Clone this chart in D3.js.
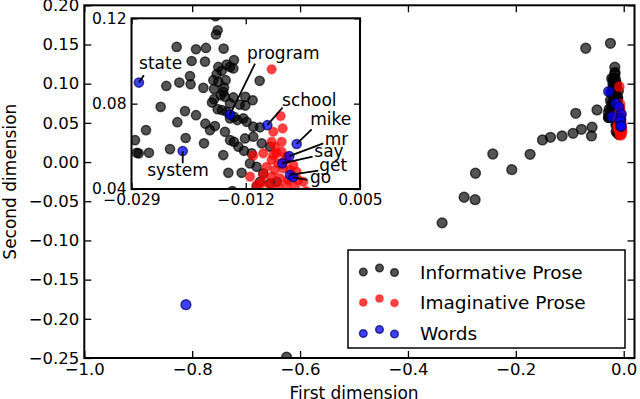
<!DOCTYPE html>
<html>
<head>
<meta charset="utf-8">
<script src="https://cdn.jsdelivr.net/npm/d3@7"></script>
<style>
  body { margin: 0; background: #fff; }
  svg { font-family: "DejaVu Sans", sans-serif; }
  .tick line { stroke: #000; stroke-width: 1.3; }
  .tick text { fill: #000; }
</style>
</head>
<body>
<div id="chart"></div>
<script>
// points: [first dimension, second dimension]
const informative = [
  [-0.625,-0.249],[-0.3367,-0.0776],[-0.2959,-0.0449],[-0.2755,-0.048],[-0.2748,-0.0143],
  [-0.2427,0.0103],[-0.2075,-0.0097],[-0.1736,0.0099],[-0.1506,0.0282],[-0.1358,0.0316],
  [-0.1143,0.0333],[-0.0939,0.0367],[-0.0889,0.0622],[-0.0704,0.1452],[-0.0246,0.1515],
  [-0.0784,0.0418],[-0.0587,0.0444],[-0.0598,0.0333],[-0.0495,0.0665],[-0.0165,0.121],
  [-0.012,0.037],[-0.009,0.035],[-0.014,0.039],
  // dense cluster (the inset region)
  [-0.01618,0.1144],[-0.01643,0.1124],[-0.02228,0.1066],[-0.0194,0.1055],[-0.01792,0.1061],
  [-0.01529,0.1058],[-0.02005,0.1000],[-0.01806,0.0997],[-0.01375,0.1004],[-0.01484,0.0983],
  [-0.01608,0.0972],[-0.01434,0.0972],[-0.01558,0.0954],[-0.01385,0.0965],[-0.0203,0.0929],
  [-0.02188,0.0899],[-0.02382,0.0883],[-0.0202,0.0891],[-0.01633,0.0938],[-0.01682,0.091],
  [-0.01608,0.0902],[-0.01499,0.091],[-0.00993,0.0907],[-0.01524,0.0876],[-0.01672,0.0869],
  [-0.01573,0.084],[-0.01509,0.0832],[-0.01534,0.0855],[-0.01831,0.0874],[-0.01672,0.0821],
  [-0.01385,0.0829],[-0.01207,0.0832],[-0.01098,0.0816],[-0.01702,0.0805],[-0.01434,0.0801],
  [-0.0129,0.0795],[-0.01207,0.0791],[-0.02466,0.0785],[-0.02104,0.0765],[-0.0194,0.0746],
  [-0.01618,0.0774],[-0.01554,0.077],[-0.01484,0.0762],[-0.02218,0.0713],[-0.01801,0.0706],
  [-0.01658,0.0695],[-0.01434,0.0731],[-0.01375,0.0738],[-0.01325,0.0723],[-0.01236,0.0731],
  [-0.01187,0.0715],[-0.01088,0.0692],[-0.00988,0.0689],[-0.02684,0.0676],[-0.02094,0.0639],
  [-0.02327,0.0587],[-0.01821,0.0614],[-0.01732,0.0676],[-0.01509,0.0668],[-0.01434,0.0629],
  [-0.01375,0.0621],[-0.0131,0.0598],[-0.01211,0.0637],[-0.01088,0.0645],[-0.00963,0.0614],
  [-0.00839,0.0598],[-0.02823,0.057],[-0.02793,0.0567],[-0.0264,0.057],[-0.01534,0.0559],
  [-0.01226,0.0579],[-0.01112,0.0567],[-0.01459,0.0476],[-0.01261,0.0476],[-0.01137,0.052],
  [-0.01038,0.0504],[-0.00939,0.0473],[-0.00988,0.0434],[-0.00839,0.0427],[-0.0074,0.0434],
  [-0.01038,0.0411],[-0.02848,0.0629]
];

const imaginative = [
  [-0.00815,0.0961],[-0.00681,0.0742],[-0.00651,0.0684],[-0.0079,0.0668],[-0.00666,0.0621],
  [-0.00815,0.0621],[-0.00765,0.0598],[-0.00939,0.0567],[-0.01088,0.0556],[-0.01137,0.0458],
  [-0.01038,0.0419],[-0.0074,0.0567],[-0.00666,0.0575],[-0.00591,0.0551],[-0.00815,0.0536],
  [-0.00716,0.052],[-0.00889,0.0504],[-0.00765,0.0489],[-0.00641,0.0497],[-0.00542,0.0489],
  [-0.00443,0.0481],[-0.00939,0.0465],[-0.00815,0.0458],[-0.00691,0.045],[-0.00567,0.0442],
  [-0.00418,0.0442],[-0.00344,0.0434],[-0.00963,0.0427],[-0.00839,0.0419],[-0.00716,0.0411],
  [-0.00592,0.0419],[-0.00468,0.0411],[-0.00616,0.0536],[-0.00493,0.0512],[-0.0079,0.0559],
  [-0.006,0.038],[-0.004,0.036],[-0.007,0.035],[-0.003,0.039],[-0.005,0.034]
];

const words = [
  [-0.8116,-0.182],
  [-0.0279,0.0899],[-0.01434,0.0749],[-0.00879,0.0699],[-0.00442,0.0611],[-0.02138,0.0578],
  [-0.00552,0.0554],[-0.00656,0.0520],[-0.00542,0.0466],[-0.00492,0.0455]
];
const wordNames = ["", "state", "program", "school", "mike", "system", "mr", "say", "get", "go"];

const legendLabels = ["Informative Prose", "Imaginative Prose", "Words"];
const mainXTicks = [-1.0, -0.8, -0.6, -0.4, -0.2, 0.0];
const mainYTicks = [-0.25, -0.20, -0.15, -0.10, -0.05, 0.00, 0.05, 0.10, 0.15, 0.20];
const insetXTicks = [-0.029, -0.012, 0.005];
const insetYTicks = [0.04, 0.08, 0.12];

// label placement (pixel offsets from the word's point): text centre/baseline, line start
const labelOffsets = {
  state:   {tx: 21.7, ty: -13.3, lx: 5,    ly: -7.3},
  program: {tx: 53.3, ty: -56,   lx: 25,   ly: -51},
  school:  {tx: 42,   ty: -19,   lx: 15.3, ly: -17.7},
  mike:    {tx: 34,   ty: -19,   lx: 15,   ly: -14.7},
  system:  {tx: -4.7, ty: 24.7,  lx: 0,    ly: 12.3},
  mr:      {tx: 47.3, ty: -11,   lx: 34,   ly: -12.7},
  say:     {tx: 46.7, ty: -6.7,  lx: 30.3, ly: -6.7},
  get:     {tx: 43.3, ty: -4.3,  lx: 28.3, ly: -4.3},
  go:      {tx: 27.3, ty: 6,     lx: 14,   ly: 2.7}
};

const W = 640, H = 399;
const styles = [
  {fill: "#000", fo: 0.67, stroke: "#000", so: 0.67},
  {fill: "#ff0000", fo: 0.75, stroke: "#ff0000", so: 0.35},
  {fill: "#0000ff", fo: 0.75, stroke: "#000060", so: 0.7}
];

const svg = d3.select("#chart").append("svg")
  .attr("width", W).attr("height", H);

// main axes
const x = d3.scaleLinear().domain([-1.0, 0.02]).range([84.3, 634.5]);
const y = d3.scaleLinear().domain([-0.25, 0.20]).range([358, 5.3]);

svg.append("clipPath").attr("id", "clipMain")
  .append("rect").attr("x", 84.3).attr("y", 5.3).attr("width", 634.5 - 84.3).attr("height", 358 - 5.3);

function drawPoints(g, data, st, xs, ys, r) {
  g.selectAll(null).data(data).enter().append("circle")
    .attr("cx", d => xs(d[0])).attr("cy", d => ys(d[1])).attr("r", r)
    .attr("fill", st.fill).attr("fill-opacity", st.fo)
    .attr("stroke", st.stroke).attr("stroke-opacity", st.so).attr("stroke-width", 1.5);
}

const mainPts = svg.append("g").attr("clip-path", "url(#clipMain)");
drawPoints(mainPts, informative, styles[0], x, y, 4.9);
drawPoints(mainPts, imaginative, styles[1], x, y, 4.9);
drawPoints(mainPts, words, styles[2], x, y, 4.9);

function ticks(g, xs, ys, xt, yt, fx, fy, size, fontSize, pad) {
  const b = g.append("g").attr("transform", "translate(0," + ys.range()[0] + ")")
    .call(d3.axisBottom(xs).tickValues(xt).tickFormat(d3.format(fx)).tickSize(-size).tickSizeOuter(0).tickPadding(pad));
  const l = g.append("g").attr("transform", "translate(" + xs.range()[0] + ",0)")
    .call(d3.axisLeft(ys).tickValues(yt).tickFormat(d3.format(fy)).tickSize(-size).tickSizeOuter(0).tickPadding(pad));
  const t = g.append("g").attr("transform", "translate(0," + ys.range()[1] + ")")
    .call(d3.axisTop(xs).tickValues(xt).tickFormat("").tickSize(-size).tickSizeOuter(0));
  const rr = g.append("g").attr("transform", "translate(" + xs.range()[1] + ",0)")
    .call(d3.axisRight(ys).tickValues(yt).tickFormat("").tickSize(-size).tickSizeOuter(0));
  [b, l, t, rr].forEach(a => {
    a.select(".domain").remove();
    a.attr("font-family", null).attr("font-size", fontSize);
  });
}

const mainAxes = svg.append("g");
ticks(mainAxes, x, y, mainXTicks, mainYTicks, ".1f", ".2f", 7, 16.5, 5);
mainAxes.append("rect")
  .attr("x", 84.3).attr("y", 5.3).attr("width", 634.5 - 84.3).attr("height", 358 - 5.3)
  .attr("fill", "none").attr("stroke", "#000").attr("stroke-width", 2);

svg.append("text").attr("x", x(-0.5)).attr("y", 399)
  .attr("text-anchor", "middle").attr("font-size", 17).text("First dimension");
svg.append("text").attr("transform", "translate(16," + y(-0.025) + ") rotate(-90)")
  .attr("text-anchor", "middle").attr("font-size", 17).text("Second dimension");

// legend
const leg = svg.append("g");
leg.append("rect").attr("x", 348).attr("y", 250).attr("width", 277).attr("height", 98)
  .attr("fill", "#fff").attr("stroke", "#000").attr("stroke-width", 1.5);
const legRowY = [272, 302.5, 333.5];
const legDotX = [363.3, 379.5, 394.5];
const legDotDy = [0, -4, 0.5];
legendLabels.forEach((lab, i) => {
  legDotX.forEach((dx, j) => {
    leg.append("circle").attr("cx", dx).attr("cy", legRowY[i] + legDotDy[j]).attr("r", 3.8)
      .attr("fill", styles[i].fill).attr("fill-opacity", styles[i].fo)
      .attr("stroke", styles[i].stroke).attr("stroke-opacity", styles[i].so).attr("stroke-width", 1.5);
  });
  leg.append("text").attr("x", 420).attr("y", legRowY[i] + 6.5)
    .attr("font-size", 18.5).text(lab);
});

// inset
const xi = d3.scaleLinear().domain([-0.029, 0.005]).range([131.5, 360]);
const yi = d3.scaleLinear().domain([0.04, 0.12]).range([189, 18.3]);

svg.append("clipPath").attr("id", "clipInset")
  .append("rect").attr("x", 131.5).attr("y", 18.3).attr("width", 360 - 131.5).attr("height", 189 - 18.3);

const inset = svg.append("g");
inset.append("rect").attr("x", 131.5).attr("y", 18.3).attr("width", 360 - 131.5).attr("height", 189 - 18.3)
  .attr("fill", "#fff");
const insetPts = inset.append("g").attr("clip-path", "url(#clipInset)");
drawPoints(insetPts, informative, styles[0], xi, yi, 4.6);
drawPoints(insetPts, imaginative, styles[1], xi, yi, 4.6);
drawPoints(insetPts, words, styles[2], xi, yi, 4.6);

// word annotations
words.forEach((d, i) => {
  const name = wordNames[i];
  if (!name) return;
  const o = labelOffsets[name];
  const px = xi(d[0]), py = yi(d[1]);
  inset.append("line")
    .attr("x1", px + o.lx).attr("y1", py + o.ly).attr("x2", px).attr("y2", py)
    .attr("stroke", "#000").attr("stroke-width", 1.8);
  inset.append("text").attr("x", px + o.tx).attr("y", py + o.ty)
    .attr("text-anchor", "middle").attr("font-size", 17).text(name);
});

ticks(inset, xi, yi, insetXTicks, insetYTicks, ".3f", ".2f", 6, 15.5, 5);
inset.append("rect")
  .attr("x", 131.5).attr("y", 18.3).attr("width", 360 - 131.5).attr("height", 189 - 18.3)
  .attr("fill", "none").attr("stroke", "#000").attr("stroke-width", 2);
</script>
</body>
</html>
